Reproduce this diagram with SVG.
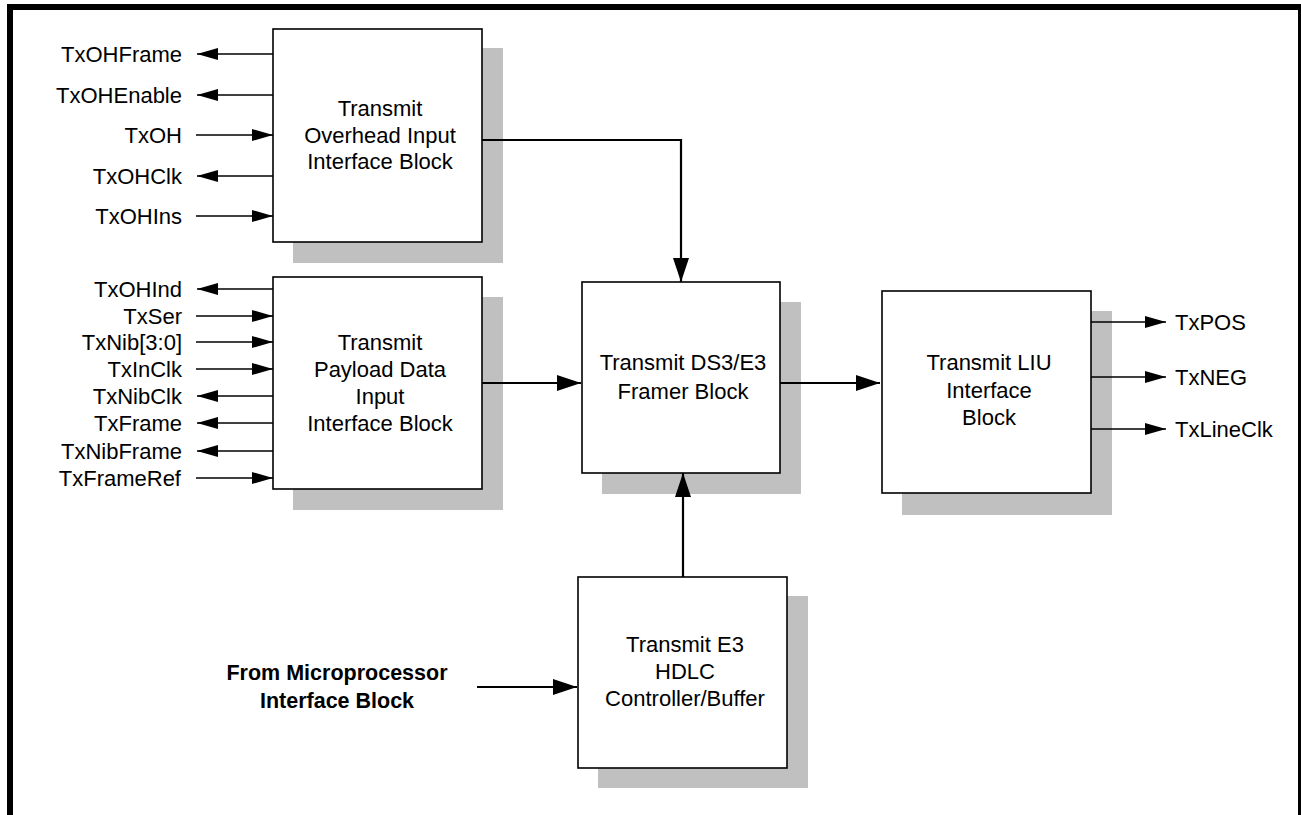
<svg xmlns="http://www.w3.org/2000/svg" width="1301" height="815" viewBox="0 0 1301 815">
<style>
text{font-family:"Liberation Sans",Arial,sans-serif;font-size:22px;fill:#000}
.c{text-anchor:middle}
.r{text-anchor:end}
.b{font-weight:bold;font-size:21.5px;text-anchor:middle}
.box{fill:#fff;stroke:#000;stroke-width:1.6}
.sh{fill:#c0c0c0}
.sig{fill:none;stroke:#000;stroke-width:1.5;marker-end:url(#sm)}
.big{fill:none;stroke:#000;stroke-width:2.2;marker-end:url(#lg)}
</style>
<defs>
<marker id="sm" markerUnits="userSpaceOnUse" markerWidth="22" markerHeight="12" refX="21" refY="6" orient="auto" viewBox="0 0 22 12"><path d="M0,0 L21,6 L0,12 z" fill="#000"/></marker>
<marker id="lg" markerUnits="userSpaceOnUse" markerWidth="24" markerHeight="16" refX="24" refY="8" orient="auto" viewBox="0 0 24 16"><path d="M0,0 L24,8 L0,16 z" fill="#000"/></marker>
</defs>
<rect width="1301" height="815" fill="#fff"/>
<g id="frame" fill="#000">
<rect x="7" y="4" width="1294" height="6"/>
<rect x="7" y="4" width="6" height="811"/>
<rect x="1298" y="4" width="3" height="811"/>
</g>
<g id="overhead-block">
<rect class="sh" x="293" y="48" width="210" height="215"/>
<rect class="box" x="273" y="29" width="209" height="213"/>
<text class="c" x="380" y="115.5">Transmit</text>
<text class="c" x="380" y="142.5">Overhead Input</text>
<text class="c" x="380" y="169">Interface Block</text>
</g>
<g id="payload-block">
<rect class="sh" x="293" y="297" width="210" height="213"/>
<rect class="box" x="273" y="277" width="209" height="212"/>
<text class="c" x="380" y="350">Transmit</text>
<text class="c" x="380" y="377">Payload Data</text>
<text class="c" x="380" y="404">Input</text>
<text class="c" x="380" y="431">Interface Block</text>
</g>
<g id="framer-block">
<rect class="sh" x="602" y="302" width="199" height="192"/>
<rect class="box" x="582" y="282" width="198" height="191"/>
<text class="c" x="683" y="370">Transmit DS3/E3</text>
<text class="c" x="683" y="398.5">Framer Block</text>
</g>
<g id="liu-block">
<rect class="sh" x="902" y="311" width="210" height="204"/>
<rect class="box" x="882" y="291" width="209" height="202"/>
<text class="c" x="989" y="370">Transmit LIU</text>
<text class="c" x="989" y="398">Interface</text>
<text class="c" x="989" y="425">Block</text>
</g>
<g id="hdlc-block">
<rect class="sh" x="598" y="596" width="210" height="192"/>
<rect class="box" x="578" y="577" width="209" height="191"/>
<text class="c" x="685" y="652">Transmit E3</text>
<text class="c" x="685" y="678.5">HDLC</text>
<text class="c" x="685" y="705.5">Controller/Buffer</text>
</g>
<g id="microprocessor-label">
<text class="b" x="337" y="680">From Microprocessor</text>
<text class="b" x="337" y="708">Interface Block</text>
</g>
<g id="signal-labels">
<text class="r" x="182" y="62">TxOHFrame</text>
<text class="r" x="182" y="103">TxOHEnable</text>
<text class="r" x="182" y="143">TxOH</text>
<text class="r" x="182" y="184">TxOHClk</text>
<text class="r" x="182" y="224">TxOHIns</text>
<text class="r" x="182" y="297">TxOHInd</text>
<text class="r" x="182" y="324">TxSer</text>
<text class="r" x="182" y="350">TxNib[3:0]</text>
<text class="r" x="182" y="377">TxInClk</text>
<text class="r" x="182" y="404">TxNibClk</text>
<text class="r" x="182" y="431">TxFrame</text>
<text class="r" x="182" y="459">TxNibFrame</text>
<text class="r" x="181" y="486">TxFrameRef</text>
<text x="1175" y="330">TxPOS</text>
<text x="1175" y="385">TxNEG</text>
<text x="1175" y="437">TxLineClk</text>
</g>
<g id="connectors">
<path class="sig" d="M273,54 H197"/>
<path class="sig" d="M273,95 H197"/>
<path class="sig" d="M196,135 H273"/>
<path class="sig" d="M273,176 H197"/>
<path class="sig" d="M196,216 H273"/>
<path class="sig" d="M273,289 H197"/>
<path class="sig" d="M196,316 H273"/>
<path class="sig" d="M196,342 H273"/>
<path class="sig" d="M196,369 H273"/>
<path class="sig" d="M273,396 H197"/>
<path class="sig" d="M273,423 H197"/>
<path class="sig" d="M273,451 H197"/>
<path class="sig" d="M196,478 H273"/>
<path class="sig" d="M1091,322 H1166"/>
<path class="sig" d="M1091,377 H1166"/>
<path class="sig" d="M1091,429 H1166"/>
<path class="big" d="M482,140 H681 V282"/>
<path class="big" d="M482,383 H581"/>
<path class="big" d="M780,383 H880"/>
<path class="big" d="M683,577 V473"/>
<path class="big" d="M477,687 H577"/>
</g>
</svg>
